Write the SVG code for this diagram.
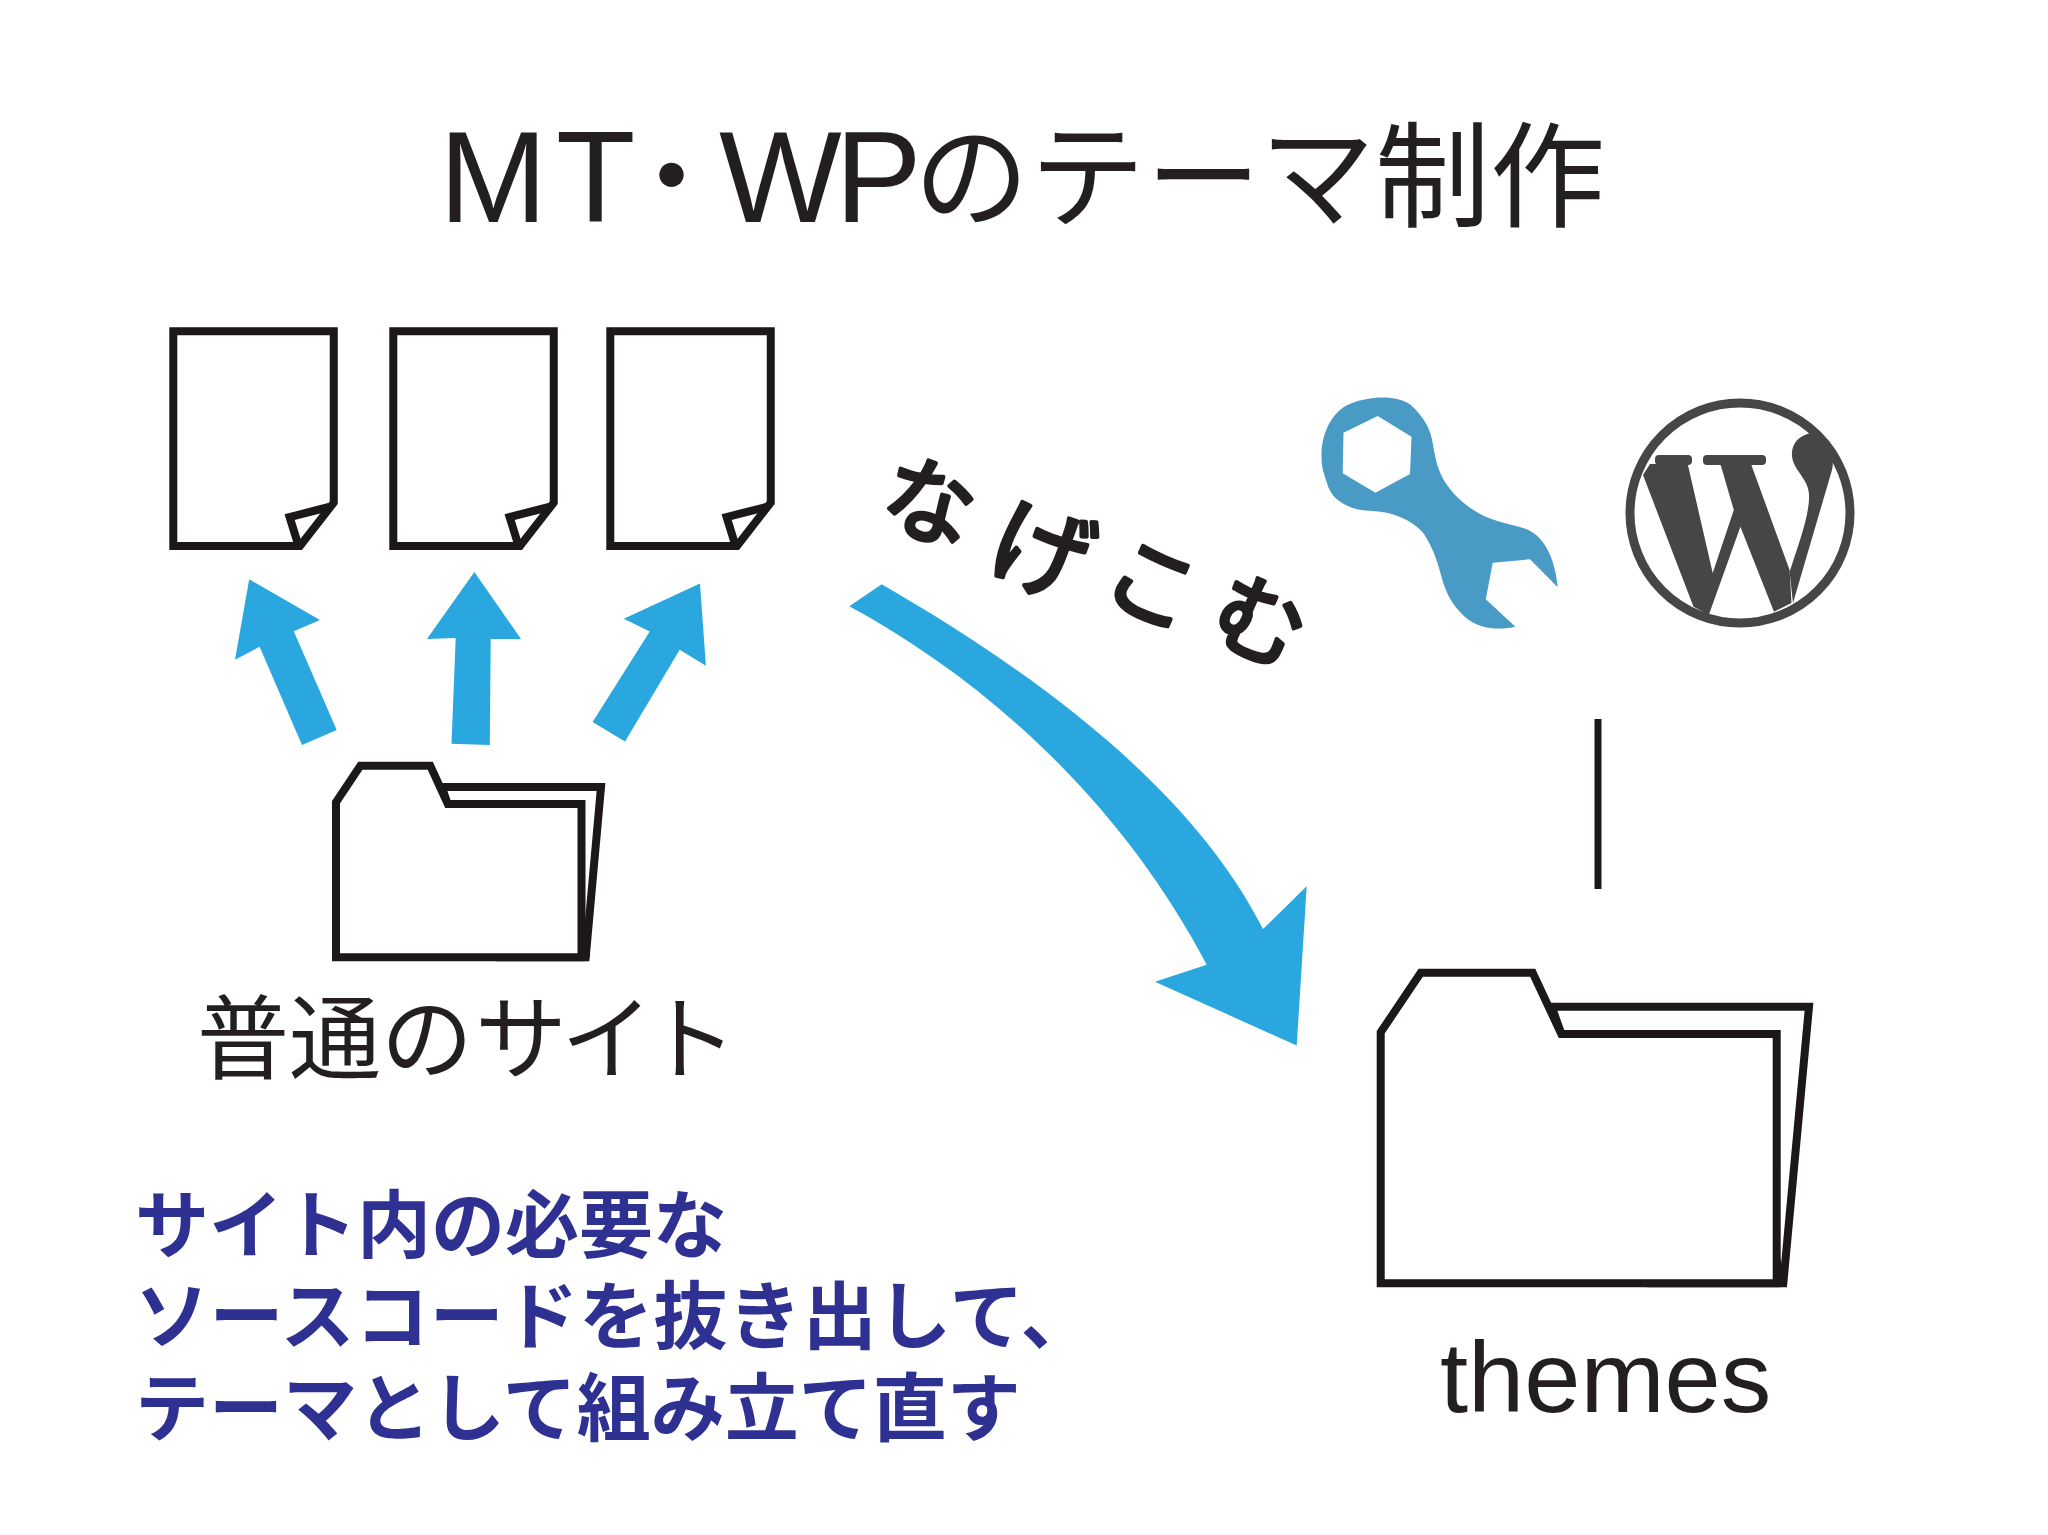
<svg xmlns="http://www.w3.org/2000/svg" width="2048" height="1535" viewBox="0 0 2048 1535">
<style>
.ln{fill:#fff;stroke:#1c1718;stroke-width:8;stroke-miterlimit:6}
.nf{fill:none;stroke:#1c1718;stroke-width:8;stroke-miterlimit:6}
.bl{fill:#2aa7df}
.jp{font-family:"Noto Sans CJK JP","Noto Sans",sans-serif;fill:#231f20}
.la{font-family:"Liberation Sans",Arial,sans-serif;fill:#231f20}
.blue{font-family:"Noto Sans CJK JP","Noto Sans",sans-serif;font-weight:700;font-size:74px;fill:#2e3192}
</style>
<defs>
<g id="doc">
<path class="ln" d="M173.3 331.2H333.75V502.6L300 546H173.3Z"/>
<path class="nf" d="M329 507L289.6 517L298 544"/>
</g>
</defs>
<rect width="2048" height="1535" fill="#fff"/>
<text id="title" class="jp" font-size="115" y="218"><tspan class="la" font-size="130" x="439 556" y="222">MT</tspan><tspan x="614" y="218">・</tspan><tspan class="la" font-size="130" x="719 835" y="222">WP</tspan><tspan x="914 1030 1146 1260 1375 1490" y="218">のテーマ制作</tspan></text>
<g id="doc1"><use href="#doc"/></g>
<g id="doc2"><use href="#doc" x="220"/></g>
<g id="doc3"><use href="#doc" x="437"/></g>
<g id="connectors">
<polygon class="bl" points="249.2,579.3 320,620 293.8,631.2 336.7,729.9 302,745 259.6,646.8 235,659.8"/>
<polygon class="bl" points="474.4,571.9 521,639 490.7,639 489.8,745 451.5,743.8 455.7,638.1 426.9,639"/>
<polygon class="bl" points="700,583.6 705.9,665.8 679.7,649.8 625,741.6 592.6,722 649.7,631.6 623.8,618.7"/>
<path class="bl" d="M849.3 606.3L881.7 584.3C1030 670 1190 785 1263 929L1306.7 886.3L1296.7 1045.5L1155 981.8L1206.7 964.7C1120 800 985 680 849.3 606.3Z"/>
<line x1="1598" y1="719" x2="1598" y2="889" stroke="#1c1718" stroke-width="7"/>
</g>
<g id="folder-small">
<path class="ln" d="M441.9 787H601L585.7 957.2H499Z"/>
<path class="ln" d="M336 957.2V802.2L360.3 765.8H430.3L447.8 803.9H581.5V957.2Z"/>
<polygon fill="#1c1718" points="581,957 585,915 590,957"/>
</g>
<text id="label-site" class="jp" font-size="92" x="197 289 381 475 561 645" y="1072">普通のサイト</text>
<text id="label-throw" class="jp" font-size="92" stroke="#231f20" stroke-width="4" stroke-linejoin="round" stroke-linecap="round"><tspan x="876" y="522" rotate="16">な</tspan><tspan font-size="100" x="982" y="568" rotate="20">げ</tspan><tspan x="1097" y="596" rotate="24">こ</tspan><tspan x="1204" y="634" rotate="24">む</tspan></text>
<g id="wrench">
<path fill="#4a9ac6" fill-rule="evenodd" d="M1321.5 456.7C1321 430 1335 408 1353 402.7C1365 398 1395 393 1410.8 405C1425 418 1431 430 1433 445C1436 462 1438 470 1445 482C1455 497 1465 505 1480 514C1495 522 1512 524 1526 529C1542 535 1555 555 1557.7 587.3L1530 559.3L1492.7 562.7L1485.8 599.3L1515.4 626.7C1500 630 1480 630 1465 617C1450 603 1445 590 1441 575C1437 560 1433 548 1424 534C1414 522 1402 517 1388 513C1375 510 1362 512 1350 507C1338 502 1330 495 1327 483C1323 472 1321.5 465 1321.5 456.7ZM1377.7 416L1343.5 432.7L1342.7 473.3L1375.4 492.7L1410 474L1411.5 436.7Z"/>
</g>
<g id="wordpress" fill="#464646">
<circle cx="1740" cy="513" r="110" fill="none" stroke="#464646" stroke-width="9"/>
<rect x="1655" y="455" width="37" height="10" rx="4"/>
<rect x="1703" y="455" width="63" height="10" rx="4"/>
<polygon points="1650,464 1687.7,464 1712.7,573 1733.8,510 1720.4,464 1751,464 1789.6,570 1791.5,603 1774,611.7 1740.4,526.7 1708.8,615 1693.5,606.7 1643,475"/>
<path d="M1812 433C1798 435 1791 445 1792 456C1793 470 1808 478 1809 494C1810 515 1798 545 1789.6 572L1793 603L1832 470C1836 455 1825 437 1812 433Z"/>
</g>
<g id="folder-themes">
<path class="ln" d="M1551.7 1006.7H1809L1783.3 1283.3H1650Z"/>
<path class="ln" d="M1380.7 1283.3V1032.3L1420.7 972.7H1532.7L1561.3 1034H1776.7V1283.3Z"/>
<polygon fill="#1c1718" points="1776,1284 1780,1258 1787,1284"/>
</g>
<text id="label-themes" class="la" x="1440" y="1412" font-size="101">themes</text>
<g id="note">
<text class="blue" x="135" y="1252">サイト内の必要な</text>
<text class="blue" x="135" y="1343" letter-spacing="0.6">ソースコードを抜き出して、</text>
<text class="blue" x="135" y="1435">テーマとして組み立て直す</text>
</g>
</svg>
